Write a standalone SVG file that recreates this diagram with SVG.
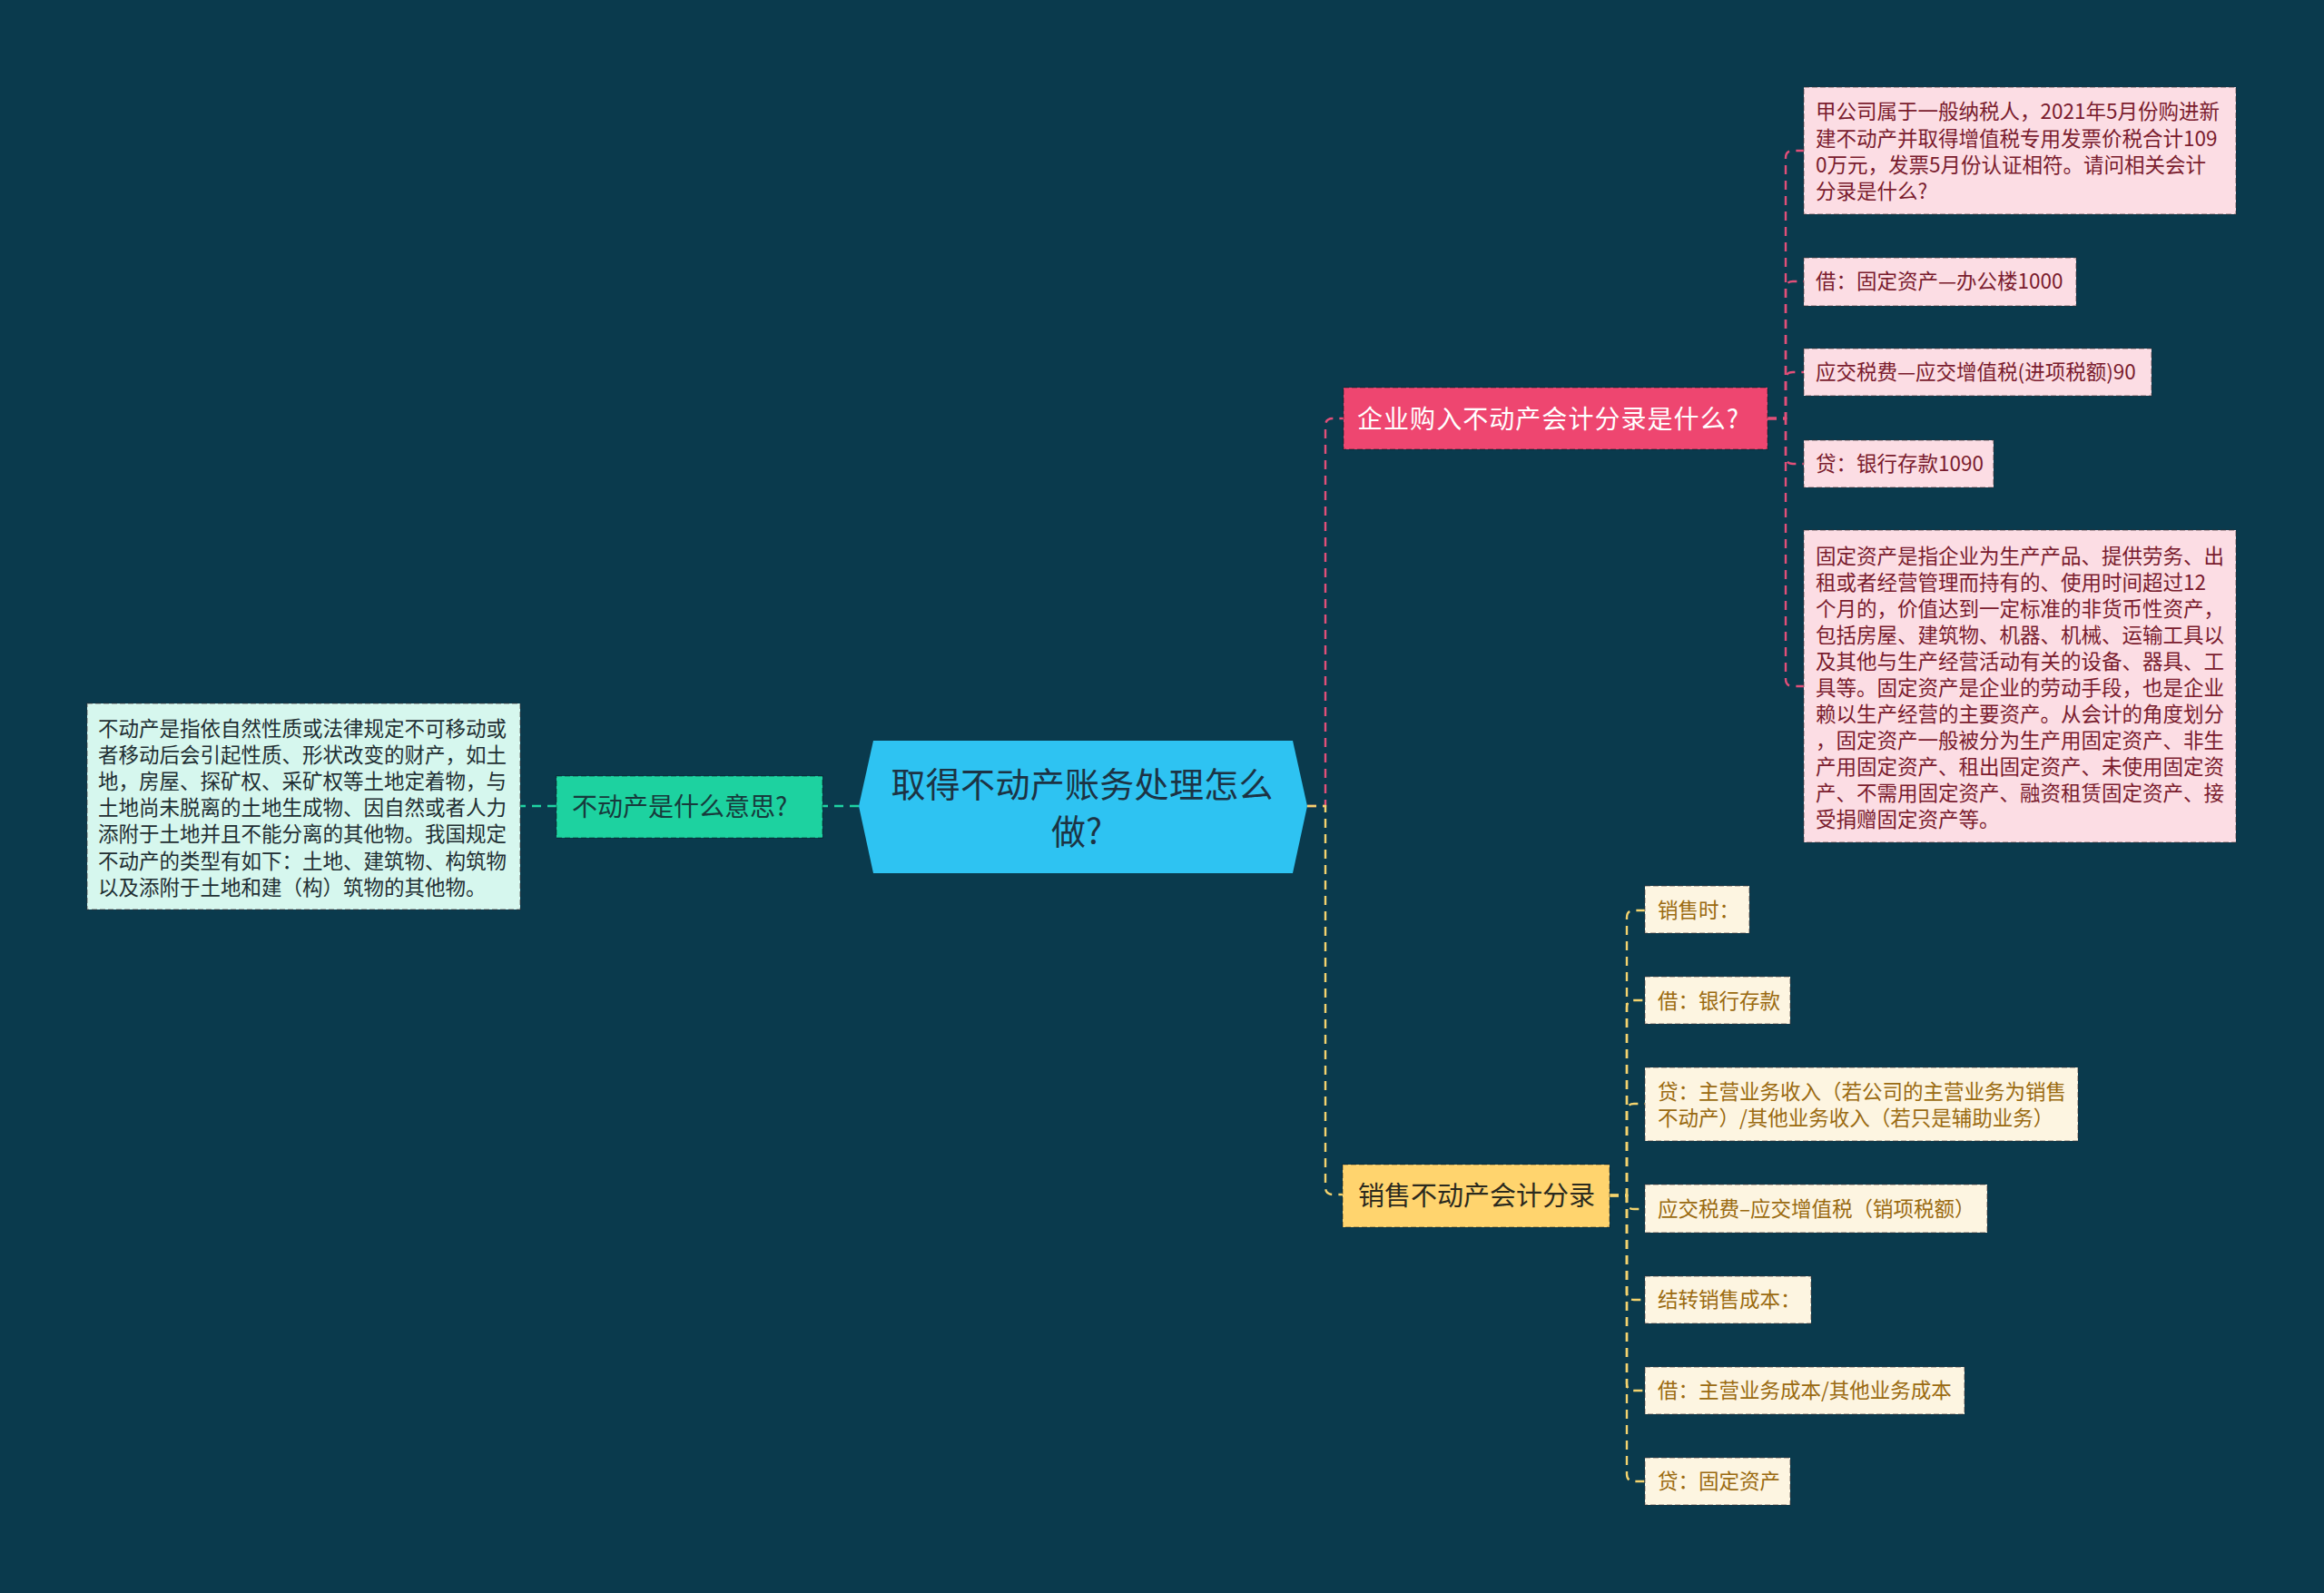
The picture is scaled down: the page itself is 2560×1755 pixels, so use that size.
<svg xmlns="http://www.w3.org/2000/svg" width="2560" height="1755" viewBox="0 0 2560 1755">
<style>
text{font-family:"Noto Sans CJK SC","Noto Sans",sans-serif;dominant-baseline:central;transform:translate(0px,-2px)}
.bg{fill:#0A3A4D}
.conn{fill:none;stroke-width:2.4;stroke-dasharray:10 7}
.cg{stroke:#1FD3A2}
.cp{stroke:#E24F79}
.cy{stroke:#F4D36E}
.nb{stroke:rgba(0,0,0,0.28);stroke-width:1.6;stroke-dasharray:6 3}
.lb{stroke:rgba(60,40,40,0.4);stroke-width:1.5;stroke-dasharray:6 3}
.root{fill:#2EC3F2}
.roott{font-size:38px;fill:#1C3344;text-anchor:middle}
.gn{fill:#1DD2A0}
.gnt{font-size:28px;fill:#173A3C}
.gl{fill:#D6F7EE}
.glt{font-size:22.5px;fill:#1F2F33}
.pn{fill:#EE4670}
.pnt{font-size:28px;fill:#FFFFFF}
.pl{fill:#FCDDE4}
.plt{font-size:22.5px;fill:#7A1C2E}
.yn{fill:#FFD46E}
.ynt{font-size:29px;fill:#2B2A1E}
.yl{fill:#FDF5E1}
.ylt{font-size:22.5px;fill:#9A6A10}
</style>
<rect class="bg" x="0" y="0" width="2560" height="1755"/>

<g id="connectors">
  <path class="conn cg" d="M946 888 H906"/>
  <path class="conn cg" d="M613 888 H573"/>
  <path class="conn cp" d="M1440 888 H1460 V469 Q1460 461 1468 461 H1480"/>
  <path class="conn cy" d="M1440 888 H1460 V1308 Q1460 1316 1468 1316 H1479"/>
  <path class="conn cp" d="M1947 461 H1967 V174 Q1967 166 1975 166 H1987"/>
  <path class="conn cp" d="M1947 461 H1967 V318 Q1967 310 1975 310 H1987"/>
  <path class="conn cp" d="M1947 461 H1967 V418 Q1967 410 1975 410 H1987"/>
  <path class="conn cp" d="M1947 461 H1967 V503 Q1967 511 1975 511 H1987"/>
  <path class="conn cp" d="M1947 461 H1967 V748 Q1967 756 1975 756 H1987"/>
  <path class="conn cy" d="M1773 1317 H1792 V1011 Q1792 1003 1800 1003 H1812"/>
  <path class="conn cy" d="M1773 1317 H1792 V1110 Q1792 1102 1800 1102 H1812"/>
  <path class="conn cy" d="M1773 1317 H1792 V1224 Q1792 1216 1800 1216 H1812"/>
  <path class="conn cy" d="M1773 1317 H1792 V1324 Q1792 1332 1800 1332 H1812"/>
  <path class="conn cy" d="M1773 1317 H1792 V1424 Q1792 1432 1800 1432 H1812"/>
  <path class="conn cy" d="M1773 1317 H1792 V1524 Q1792 1532 1800 1532 H1812"/>
  <path class="conn cy" d="M1773 1317 H1792 V1624 Q1792 1632 1800 1632 H1812"/>
</g>

<g id="root">
  <polygon class="root" points="946,888 962,816 1424,816 1440,888 1424,962 962,962"/>
  <text class="roott" x="1192" y="863" textLength="421" lengthAdjust="spacing">取得不动产账务处理怎么</text>
  <text class="roott" x="1186" y="915">做?</text>
</g>

<g id="n-meaning">
  <rect class="gn nb" x="613" y="855" width="293" height="68"/>
  <text class="gnt" x="630" y="889">不动产是什么意思?</text>
</g>

<g id="n-meaning-desc">
  <rect class="gl lb" x="96" y="775" width="477" height="227"/>
  <text class="glt" x="108" y="803">不动产是指依自然性质或法律规定不可移动或</text>
  <text class="glt" x="108" y="832">者移动后会引起性质、形状改变的财产，如土</text>
  <text class="glt" x="108" y="861">地，房屋、探矿权、采矿权等土地定着物，与</text>
  <text class="glt" x="108" y="890">土地尚未脱离的土地生成物、因自然或者人力</text>
  <text class="glt" x="108" y="919">添附于土地并且不能分离的其他物。我国规定</text>
  <text class="glt" x="108" y="949">不动产的类型有如下：土地、建筑物、构筑物</text>
  <text class="glt" x="108" y="978">以及添附于土地和建（构）筑物的其他物。</text>
</g>

<g id="n-purchase">
  <rect class="pn nb" x="1480" y="427" width="467" height="68"/>
  <text class="pnt" x="1495" y="462" textLength="420" lengthAdjust="spacing">企业购入不动产会计分录是什么?</text>
</g>

<g id="p-question">
  <rect class="pl lb" x="1987" y="96" width="476" height="140"/>
  <text class="plt" x="2000" y="123">甲公司属于一般纳税人，2021年5月份购进新</text>
  <text class="plt" x="2000" y="153">建不动产并取得增值税专用发票价税合计109</text>
  <text class="plt" x="2000" y="182">0万元，发票5月份认证相符。请问相关会计</text>
  <text class="plt" x="2000" y="211">分录是什么?</text>
</g>
<g id="p-debit">
  <rect class="pl lb" x="1987" y="284" width="300" height="53"/>
  <text class="plt" x="2000" y="310">借：固定资产—办公楼1000</text>
</g>
<g id="p-tax">
  <rect class="pl lb" x="1987" y="384" width="383" height="52"/>
  <text class="plt" x="2000" y="410">应交税费—应交增值税(进项税额)90</text>
</g>
<g id="p-credit">
  <rect class="pl lb" x="1987" y="485" width="209" height="52"/>
  <text class="plt" x="2000" y="511">贷：银行存款1090</text>
</g>
<g id="p-fixed">
  <rect class="pl lb" x="1987" y="584" width="476" height="344"/>
  <text class="plt" x="2000" y="613">固定资产是指企业为生产产品、提供劳务、出</text>
  <text class="plt" x="2000" y="642">租或者经营管理而持有的、使用时间超过12</text>
  <text class="plt" x="2000" y="671">个月的，价值达到一定标准的非货币性资产，</text>
  <text class="plt" x="2000" y="700">包括房屋、建筑物、机器、机械、运输工具以</text>
  <text class="plt" x="2000" y="729">及其他与生产经营活动有关的设备、器具、工</text>
  <text class="plt" x="2000" y="758">具等。固定资产是企业的劳动手段，也是企业</text>
  <text class="plt" x="2000" y="787">赖以生产经营的主要资产。从会计的角度划分</text>
  <text class="plt" x="2000" y="816">，固定资产一般被分为生产用固定资产、非生</text>
  <text class="plt" x="2000" y="845">产用固定资产、租出固定资产、未使用固定资</text>
  <text class="plt" x="2000" y="874">产、不需用固定资产、融资租赁固定资产、接</text>
  <text class="plt" x="2000" y="903">受捐赠固定资产等。</text>
</g>

<g id="n-sale">
  <rect class="yn nb" x="1479" y="1283" width="294" height="69"/>
  <text class="ynt" x="1496" y="1317">销售不动产会计分录</text>
</g>

<g id="y-when">
  <rect class="yl lb" x="1812" y="976" width="115" height="52"/>
  <text class="ylt" x="1826" y="1003">销售时：</text>
</g>
<g id="y-debit">
  <rect class="yl lb" x="1812" y="1076" width="160" height="52"/>
  <text class="ylt" x="1826" y="1103">借：银行存款</text>
</g>
<g id="y-credit">
  <rect class="yl lb" x="1812" y="1176" width="477" height="81"/>
  <text class="ylt" x="1826" y="1203">贷：主营业务收入（若公司的主营业务为销售</text>
  <text class="ylt" x="1826" y="1232">不动产）/其他业务收入（若只是辅助业务）</text>
</g>
<g id="y-tax">
  <rect class="yl lb" x="1812" y="1305" width="377" height="53"/>
  <text class="ylt" x="1826" y="1332">应交税费–应交增值税（销项税额）</text>
</g>
<g id="y-cost">
  <rect class="yl lb" x="1812" y="1406" width="183" height="52"/>
  <text class="ylt" x="1826" y="1432">结转销售成本：</text>
</g>
<g id="y-cost-debit">
  <rect class="yl lb" x="1812" y="1506" width="352" height="52"/>
  <text class="ylt" x="1826" y="1532">借：主营业务成本/其他业务成本</text>
</g>
<g id="y-cost-credit">
  <rect class="yl lb" x="1812" y="1606" width="160" height="52"/>
  <text class="ylt" x="1826" y="1632">贷：固定资产</text>
</g>
</svg>
